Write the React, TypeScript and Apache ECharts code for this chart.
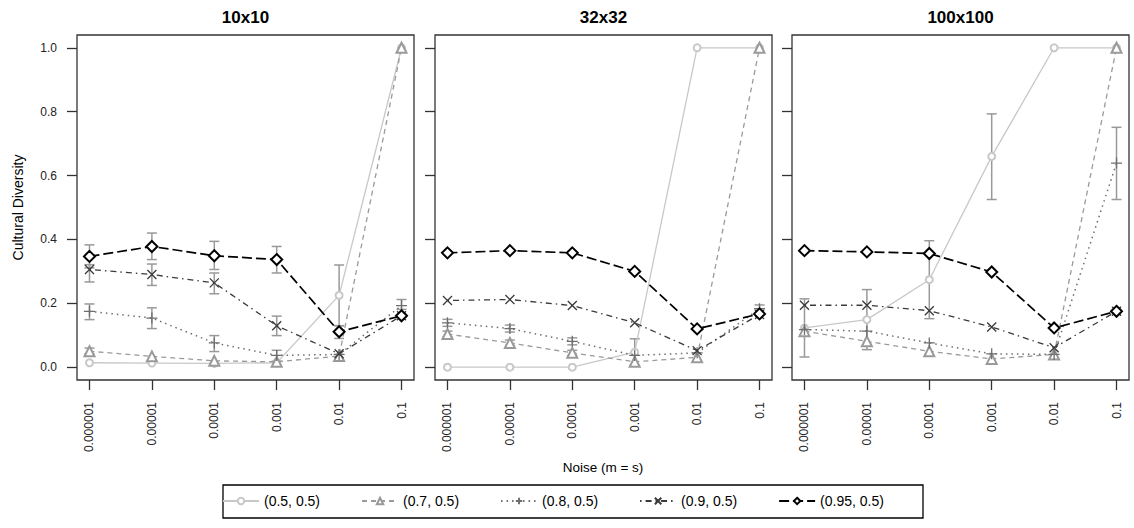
import React, { useEffect, useRef } from "react";
import * as echarts from "echarts";

const noiseLabels = ["0.000001", "0.00001", "0.0001", "0.001", "0.01", "0.1"];
const noiseIdx = [0, 1, 2, 3, 4, 5];
const yTicks = [0, 0.2, 0.4, 0.6, 0.8, 1.0];
const panelTitles = ["10x10", "32x32", "100x100"];
const seriesNames = ["(0.5, 0.5)", "(0.7, 0.5)", "(0.8, 0.5)", "(0.9, 0.5)", "(0.95, 0.5)"];

// Panel 1: 10x10
const p1s1 = [0.014, 0.013, 0.012, 0.014, 0.225, 1.0];
const p1s2 = [0.05, 0.034, 0.02, 0.017, 0.035, 1.0];
const p1s3 = [0.175, 0.154, 0.076, 0.037, 0.04, 0.193];
const p1s4 = [0.306, 0.29, 0.264, 0.13, 0.042, 0.161];
const p1s5 = [0.347, 0.378, 0.349, 0.337, 0.111, 0.161];
// Panel 2: 32x32
const p2s1 = [0.0, 0.0, 0.0, 0.047, 1.0, 1.0];
const p2s2 = [0.104, 0.076, 0.045, 0.017, 0.031, 1.0];
const p2s3 = [0.139, 0.121, 0.081, 0.037, 0.045, 0.183];
const p2s4 = [0.209, 0.212, 0.193, 0.139, 0.052, 0.165];
const p2s5 = [0.358, 0.365, 0.358, 0.3, 0.12, 0.167];
// Panel 3: 100x100
const p3s1 = [0.123, 0.149, 0.274, 0.66, 1.0, 1.0];
const p3s2 = [0.113, 0.081, 0.05, 0.026, 0.04, 1.0];
const p3s3 = [0.118, 0.113, 0.076, 0.042, 0.04, 0.639];
const p3s4 = [0.194, 0.194, 0.177, 0.126, 0.061, 0.175];
const p3s5 = [0.365, 0.361, 0.356, 0.298, 0.123, 0.175];

// Error bars: [x index, low, high]
const err1 = [
  [0, 0.311, 0.383], [1, 0.337, 0.42], [2, 0.306, 0.394], [3, 0.295, 0.378], [4, 0.09, 0.13],
  [0, 0.267, 0.321], [1, 0.256, 0.323], [2, 0.23, 0.295], [3, 0.099, 0.16],
  [0, 0.149, 0.198], [1, 0.121, 0.186], [2, 0.049, 0.099], [3, 0.019, 0.053], [5, 0.181, 0.212],
  [0, 0.042, 0.06], [4, 0.13, 0.32],
];
const err2 = [
  [3, 0.005, 0.089], [0, 0.128, 0.15], [1, 0.11, 0.132], [2, 0.07, 0.092], [5, 0.172, 0.195],
  [0, 0.095, 0.113], [1, 0.068, 0.085], [2, 0.037, 0.053],
];
const err3 = [
  [0, 0.032, 0.214], [1, 0.055, 0.243], [2, 0.152, 0.396], [3, 0.525, 0.793], [5, 0.525, 0.751],
];

const panels = [
  { values: [p1s1, p1s2, p1s3, p1s4, p1s5], err: err1 },
  { values: [p2s1, p2s2, p2s3, p2s4, p2s5], err: err2 },
  { values: [p3s1, p3s2, p3s3, p3s4, p3s5], err: err3 },
];

const FONT = "Liberation Sans, Arial, Helvetica, sans-serif";
const gridLefts = [77, 435, 792];
const GRID_W = 337;
const GRID_TOP = 35;
const GRID_H = 345;

const styles = [
  { color: "#c8c8c8", dash: "solid" as any, width: 1.3, symbol: "emptyCircle", size: 7 },
  { color: "#9a9a9a", dash: [5, 4], width: 1.3, symbol: "emptyTriangle", size: 10 },
  { color: "#6e6e6e", dash: [1.5, 4], width: 1.5, symbol: "path://M5,0L5,10M0,5L10,5", size: 11 },
  { color: "#3a3a3a", dash: [1.5, 4, 6, 4], width: 1.3, symbol: "path://M0,0L10,10M10,0L0,10", size: 9 },
  { color: "#000000", dash: [10, 4], width: 1.7, symbol: "emptyDiamond", size: 11 },
];

export default function App() {
  const ref = useRef<HTMLDivElement>(null);
  useEffect(() => {
    if (!ref.current) return;
    const chart = echarts.init(ref.current, null, { renderer: "svg" });

    const grid = gridLefts.map((l) => ({
      left: l, top: GRID_TOP, width: GRID_W, height: GRID_H,
      show: true, borderColor: "#333", borderWidth: 1.3, backgroundColor: "transparent",
    }));

    const xAxis = gridLefts.map((_, i) => ({
      gridIndex: i, type: "value", min: -0.2, max: 5.2,
      axisLine: { show: false, onZero: false }, splitLine: { show: false },
      axisTick: { show: true, inside: false, length: 10, customValues: noiseIdx, lineStyle: { color: "#333", width: 1.3 } },
      axisLabel: {
        customValues: noiseIdx, rotate: 90, margin: 22, fontSize: 12, color: "#222", fontFamily: FONT,
        formatter: (v: number) => noiseLabels[Math.round(v)] ?? "",
      },
    }));

    const yAxis = gridLefts.map((_, i) => ({
      gridIndex: i, type: "value", min: -0.04, max: 1.04,
      axisLine: { show: false, onZero: false }, splitLine: { show: false },
      axisTick: { show: true, inside: false, length: 10, customValues: yTicks, lineStyle: { color: "#333", width: 1.3 } },
      axisLabel: {
        show: i === 0, customValues: yTicks, margin: 20, fontSize: 12, color: "#222", fontFamily: FONT,
        formatter: (v: number) => v.toFixed(1),
      },
    }));

    const series: any[] = [];
    panels.forEach((p, pi) => {
      series.push({
        type: "custom", xAxisIndex: pi, yAxisIndex: pi, z: 3,
        data: p.err, encode: { x: 0, y: [1, 2] },
        renderItem: (params: any, api: any) => {
          const x = api.value(0), lo = api.value(1), hi = api.value(2);
          const t = api.coord([x, hi]);
          const b = api.coord([x, lo]);
          const w = 5;
          const st = { stroke: "#999", lineWidth: 1.5 };
          return {
            type: "group",
            children: [
              { type: "line", shape: { x1: t[0], y1: t[1], x2: b[0], y2: b[1] }, style: st },
              { type: "line", shape: { x1: t[0] - w, y1: t[1], x2: t[0] + w, y2: t[1] }, style: st },
              { type: "line", shape: { x1: b[0] - w, y1: b[1], x2: b[0] + w, y2: b[1] }, style: st },
            ],
          };
        },
      });
      p.values.forEach((vals, si) => {
        const s = styles[si];
        series.push({
          type: "line", name: seriesNames[si], xAxisIndex: pi, yAxisIndex: pi, z: 4 + si,
          data: vals.map((v, i) => [noiseIdx[i], v]),
          symbol: s.symbol, symbolSize: s.size, showAllSymbol: true,
          lineStyle: { color: s.color, width: s.width, type: s.dash },
          itemStyle: { color: s.color, borderColor: s.color, borderWidth: 1.3 },
          emphasis: { disabled: true },
        });
      });
    });

    const graphic: any[] = [];
    panelTitles.forEach((t, i) => {
      graphic.push({
        type: "text", x: gridLefts[i] + GRID_W / 2, y: 17,
        style: { text: t, align: "center", verticalAlign: "middle", fontSize: 17, fontWeight: "bold", fontFamily: FONT, fill: "#000" },
      });
    });
    graphic.push({
      type: "text", x: 18, y: GRID_TOP + GRID_H / 2, rotation: Math.PI / 2,
      style: { text: "Cultural Diversity", align: "center", verticalAlign: "middle", fontSize: 14, fontFamily: FONT, fill: "#000" },
    });
    graphic.push({
      type: "text", x: 603, y: 467,
      style: { text: "Noise (m = s)", align: "center", verticalAlign: "middle", fontSize: 13.5, fontFamily: FONT, fill: "#000" },
    });
    graphic.push({
      type: "rect", shape: { x: 223, y: 485, width: 700, height: 33 },
      style: { fill: "none", stroke: "#000", lineWidth: 1.3 },
    });

    chart.setOption({
      animation: false,
      backgroundColor: "#fff",
      grid, xAxis, yAxis, series, graphic,
      legend: {
        data: seriesNames, left: 222, top: 494, padding: 0,
        itemWidth: 36, itemHeight: 8, itemGap: 41,
        textStyle: { fontSize: 14, color: "#000", fontFamily: FONT },
        selectedMode: false,
      },
    });
    return () => chart.dispose();
  }, []);
  return <div ref={ref} style={{ position: "absolute", left: 0, top: 0, width: 1134, height: 528 }} />;
}
